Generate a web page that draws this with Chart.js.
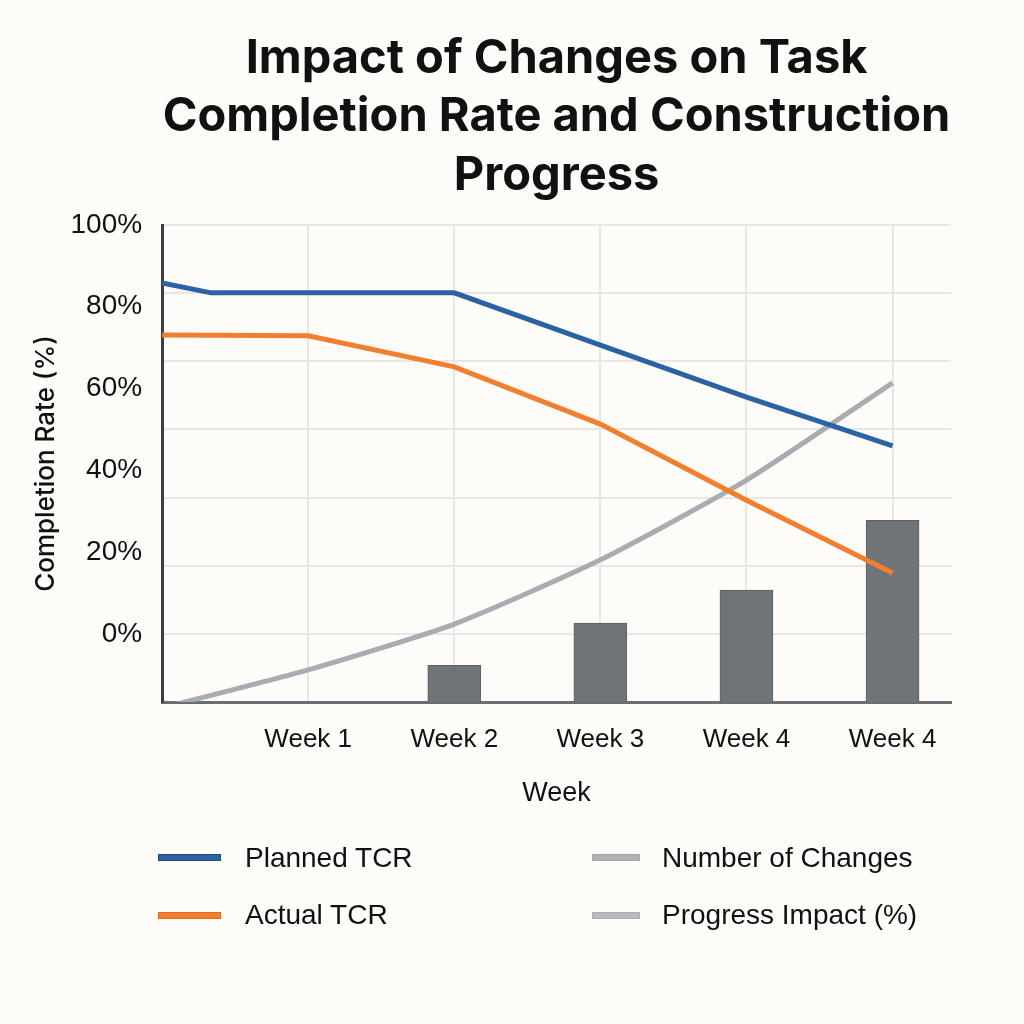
<!DOCTYPE html>
<html>
<head>
<meta charset="utf-8">
<script src="https://cdn.jsdelivr.net/npm/chart.js@4.4.1/dist/chart.umd.min.js"></script>
<style>
html,body{margin:0;padding:0;background:#fdfcf9;}
#wrap{position:relative;width:1024px;height:1024px;}
#c{position:absolute;left:0;top:0;width:1024px;height:1024px;}
#legend{position:absolute;left:158px;top:829px;display:grid;grid-template-columns:434px auto;grid-template-rows:57.5px 57.5px;grid-auto-flow:column;font-family:"Liberation Sans",Arial,sans-serif;font-size:28px;color:#111;}
.item{display:flex;align-items:center;white-space:nowrap;}
.swatch{height:7px;box-sizing:border-box;border:1px solid;}
</style>
</head>
<body>
<div id="wrap"><canvas id="c" width="1024" height="1024"></canvas><div id="legend"></div></div>
<script>
// ---- data ----
const weekTicks = [1, 2, 3, 4, 5];
const weekLabels = ['Week 1', 'Week 2', 'Week 3', 'Week 4', 'Week 4'];
const yTickValues = [0, 20, 40, 60, 80, 100];

const plannedX = [0, 0.335, 1, 2, 3, 4, 5];
const plannedTCR = [85.8, 83.4, 83.4, 83.4, 70.6, 57.9, 46.0];

const actualX = [0, 1, 2, 3, 4, 5];
const actualTCR = [73.1, 72.9, 65.3, 51.3, 32.7, 14.9];

const impactX = [0, 1, 2, 3, 4, 5];
const progressImpact = [-18.1, -8.8, 2.4, 18.1, 37.6, 61.4];

const changesX = [2, 3, 4, 5];
const numberOfChanges = [1.0, 2.15, 3.05, 4.95];

const titleLines = ['Impact of Changes on Task', 'Completion Rate and Construction', 'Progress'];

// ---- helpers ----
const pts = (xs, ys) => xs.map((x, i) => ({ x: x, y: ys[i] }));
const TXT = '#111111';
const GRID = '#e8e7e4';
const sans = '"Liberation Sans", Arial, sans-serif';

const legendSwatch = {
  'Planned TCR': ['#2c62a3', '#1e4d86'],
  'Actual TCR': ['#f3802f', '#dc6b1f'],
  'Number of Changes': ['#b0b3b7', '#a3a6aa'],
  'Progress Impact (%)': ['#b7babe', '#a9acb0']
};

const chart = new Chart(document.getElementById('c'), {
  type: 'line',
  data: {
    datasets: [
      {
        label: 'Planned TCR',
        data: pts(plannedX, plannedTCR),
        borderColor: '#2a62a4',
        borderWidth: 5,
        pointRadius: 0,
        tension: 0,
        yAxisID: 'y',
        order: 1,
        clip: 0
      },
      {
        label: 'Actual TCR',
        data: pts(actualX, actualTCR),
        borderColor: '#f27f30',
        borderWidth: 5,
        pointRadius: 0,
        tension: 0,
        yAxisID: 'y',
        order: 2,
        clip: 0
      },
      {
        type: 'bar',
        label: 'Number of Changes',
        data: pts(changesX, numberOfChanges),
        backgroundColor: '#6f7479',
        borderColor: '#5c6065',
        borderWidth: 1,
        barThickness: 53,
        yAxisID: 'yc',
        order: 4
      },
      {
        label: 'Progress Impact (%)',
        data: pts(impactX, progressImpact),
        borderColor: '#a9acb0',
        borderWidth: 5,
        pointRadius: 0,
        tension: 0.2,
        yAxisID: 'y',
        order: 3,
        clip: 0
      }
    ]
  },
  options: {
    responsive: false,
    animation: false,
    events: [],
    devicePixelRatio: 1,
    layout: { padding: { left: 10, right: 73, top: 10, bottom: 214.4 } },
    plugins: {
      legend: { display: false },
      tooltip: { enabled: false },
      title: {
        display: true,
        fullSize: false,
        text: titleLines,
        color: TXT,
        font: { family: 'Inter, "Liberation Sans", sans-serif', size: 47, weight: '700', lineHeight: 1.25 },
        padding: { top: 19, bottom: 19.75 }
      }
    },
    scales: {
      x: {
        type: 'linear',
        min: 0,
        max: 5.4,
        offset: false,
        afterBuildTicks: (s) => { s.ticks = weekTicks.map(v => ({ value: v })); },
        ticks: {
          autoSkip: false,
          maxRotation: 0,
          color: TXT,
          padding: 22,
          font: { family: sans, size: 26, lineHeight: 1.2 },
          callback: (v) => { const i = weekTicks.indexOf(v); return i >= 0 ? weekLabels[i] : ''; }
        },
        grid: { color: GRID, lineWidth: 2, drawTicks: false, offset: false },
        border: { color: '#6a6e72', width: 3 },
        title: {
          display: true,
          text: 'Week',
          color: TXT,
          font: { family: sans, size: 27, lineHeight: 1.2 },
          padding: { top: 0, bottom: 0 }
        }
      },
      y: {
        type: 'linear',
        position: 'left',
        min: -100 / 6,
        max: 100,
        afterBuildTicks: (s) => { s.ticks = yTickValues.map(v => ({ value: v })); },
        ticks: {
          color: TXT,
          padding: 20,
          font: { family: sans, size: 28, lineHeight: 1.2 },
          callback: (v) => v + '%'
        },
        grid: { display: false, drawTicks: false },
        border: { color: '#3c3f42', width: 3 },
        title: {
          display: true,
          text: 'Completion Rate (%)',
          color: TXT,
          font: { family: 'Inter, "Liberation Sans", sans-serif', size: 26, weight: '500', lineHeight: 0.3 },
          padding: { top: 32.7, bottom: 0 }
        }
      },
      yg: {
        type: 'linear',
        position: 'right',
        min: -1,
        max: 6,
        afterBuildTicks: (s) => { s.ticks = [0, 1, 2, 3, 4, 5, 6].map(v => ({ value: v })); },
        ticks: { display: false },
        grid: { color: GRID, lineWidth: 2, drawTicks: false },
        border: { display: false }
      },
      yc: {
        type: 'linear',
        display: false,
        min: 0,
        max: 13
      }
    }
  }
});

// HTML legend built from the chart's datasets (2 x 2 grid)
const legendEl = document.getElementById('legend');
chart.data.datasets.forEach((ds, i) => {
  const item = document.createElement('div');
  item.className = 'item';
  const sw = document.createElement('span');
  sw.className = 'swatch';
  const c = legendSwatch[ds.label];
  sw.style.background = c[0];
  sw.style.borderColor = c[1];
  sw.style.width = (i < 2 ? 63 : 48) + 'px';
  sw.style.marginRight = (i < 2 ? 24 : 22) + 'px';
  const t = document.createElement('span');
  t.textContent = ds.label;
  item.appendChild(sw);
  item.appendChild(t);
  legendEl.appendChild(item);
});
</script>
</body>
</html>
